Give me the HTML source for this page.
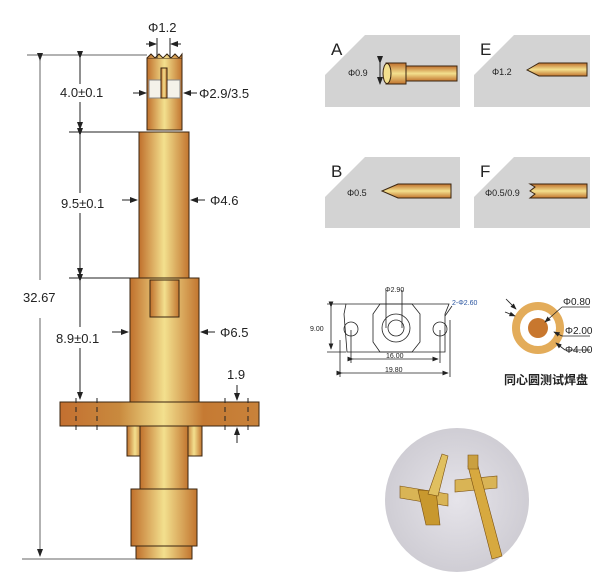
<!DOCTYPE html>
<html><head><meta charset="utf-8"><style>
html,body{margin:0;padding:0;background:#fff}
svg{display:block}
text{font-family:"Liberation Sans",sans-serif;fill:#222}
</style></head><body>
<svg width="610" height="588" viewBox="0 0 610 588" xmlns="http://www.w3.org/2000/svg">
<defs>
<linearGradient id="g" x1="0" x2="1" y1="0" y2="0">
<stop offset="0" stop-color="#c0702c"/><stop offset="0.5" stop-color="#f3e08e"/><stop offset="1" stop-color="#c2752f"/>
</linearGradient>
<linearGradient id="gv" x1="0" x2="0" y1="0" y2="1">
<stop offset="0" stop-color="#c0702c"/><stop offset="0.5" stop-color="#f3e08e"/><stop offset="1" stop-color="#c2752f"/>
</linearGradient>
<linearGradient id="gf" x1="0" x2="1" y1="0" y2="0">
<stop offset="0" stop-color="#c36f30"/><stop offset="0.3" stop-color="#c98a3e"/><stop offset="0.52" stop-color="#f3e08e"/><stop offset="0.72" stop-color="#c57a33"/><stop offset="1" stop-color="#c8823a"/>
</linearGradient>
<radialGradient id="ph" cx="0.5" cy="0.5" r="0.5">
<stop offset="0" stop-color="#e6e4ea"/><stop offset="1" stop-color="#cfcdd4"/>
</radialGradient>
<marker id="ar" markerWidth="8" markerHeight="8" refX="7" refY="4" orient="auto"><path d="M0,1 L8,4 L0,7 z" fill="#222"/></marker>
</defs>

<!-- pin -->
<g stroke="#3a2510" stroke-width="1">
<rect x="147" y="58" width="35" height="72" fill="url(#g)"/>
<path d="M147,58 l4,-4 l4,4 l4,-4 l4,4 l4,-4 l4,4 l4,-4 l4,4 l3,-4 v4" fill="url(#g)"/>
<rect x="149" y="80" width="31" height="18" fill="#f4f2ea" stroke="#888"/>
<rect x="161" y="68" width="6" height="30" fill="url(#g)"/>
<rect x="139" y="132" width="50" height="146" fill="url(#g)"/>
<rect x="130" y="278" width="69" height="124" fill="url(#g)"/>
<rect x="150" y="280" width="29" height="37" fill="url(#g)"/>
<rect x="60" y="402" width="199" height="24" fill="url(#gf)"/>
<rect x="127" y="426" width="16" height="30" fill="url(#g)"/>
<rect x="186" y="426" width="16" height="30" fill="url(#g)"/>
<rect x="140" y="426" width="48" height="63" fill="url(#g)"/>
<rect x="131" y="489" width="66" height="57" fill="url(#g)"/>
<rect x="136" y="546" width="56" height="13" fill="url(#g)"/>
</g>
<g stroke="#222" stroke-width="1" fill="none">
<line x1="27" y1="55" x2="147" y2="55" stroke="#666"/>
<line x1="69" y1="132" x2="139" y2="132"/>
<line x1="69" y1="278" x2="130" y2="278"/>
<line x1="22" y1="559" x2="136" y2="559" stroke="#666"/>
<line x1="40" y1="60" x2="40" y2="280" stroke="#666" marker-start="url(#ar)"/>
<line x1="40" y1="318" x2="40" y2="556" stroke="#666" marker-end="url(#ar)"/>
<line x1="80" y1="58" x2="80" y2="84" marker-start="url(#ar)"/>
<line x1="80" y1="102" x2="80" y2="129" marker-end="url(#ar)"/>
<line x1="80" y1="135" x2="80" y2="193" marker-start="url(#ar)"/>
<line x1="80" y1="213" x2="80" y2="275" marker-end="url(#ar)"/>
<line x1="80" y1="281" x2="80" y2="327" marker-start="url(#ar)"/>
<line x1="80" y1="348" x2="80" y2="399" marker-end="url(#ar)"/>
<line x1="146" y1="44" x2="156" y2="44" marker-end="url(#ar)"/>
<line x1="181" y1="44" x2="171" y2="44" marker-end="url(#ar)"/>
<line x1="157" y1="38" x2="157" y2="58"/><line x1="170" y1="38" x2="170" y2="58"/>
<line x1="133" y1="93" x2="146" y2="93" marker-end="url(#ar)"/>
<line x1="197" y1="93" x2="184" y2="93" marker-end="url(#ar)"/>
<line x1="122" y1="200" x2="137" y2="200" marker-end="url(#ar)"/>
<line x1="205" y1="200" x2="191" y2="200" marker-end="url(#ar)"/>
<line x1="112" y1="332" x2="128" y2="332" marker-end="url(#ar)"/>
<line x1="215" y1="332" x2="201" y2="332" marker-end="url(#ar)"/>
<line x1="237" y1="385" x2="237" y2="400" marker-end="url(#ar)"/>
<line x1="237" y1="443" x2="237" y2="428" marker-end="url(#ar)"/>
<line x1="76" y1="398" x2="76" y2="430" stroke-dasharray="5,4"/>
<line x1="97" y1="398" x2="97" y2="430" stroke-dasharray="5,4"/>
<line x1="225" y1="398" x2="225" y2="430" stroke-dasharray="5,4"/>
<line x1="248" y1="398" x2="248" y2="430" stroke-dasharray="5,4"/>
</g>
<g font-size="13">
<text x="148" y="32">Φ1.2</text>
<text x="60" y="97">4.0±0.1</text>
<text x="199" y="98">Φ2.9/3.5</text>
<text x="61" y="208">9.5±0.1</text>
<text x="210" y="205">Φ4.6</text>
<text x="23" y="302">32.67</text>
<text x="56" y="343">8.9±0.1</text>
<text x="220" y="337">Φ6.5</text>
<text x="227" y="379">1.9</text>
</g>

<!-- thumbnails -->
<g>
<rect x="325" y="35" width="135" height="72" fill="#d3d3d3"/>
<path d="M325,35 h40 l-40,40z" fill="#fff"/>
<text x="331" y="55" font-size="17">A</text>
<rect x="386" y="63" width="20" height="21" fill="url(#gv)" stroke="#3a2510"/>
<ellipse cx="387" cy="73.5" rx="4" ry="10" fill="#f3e08e" stroke="#3a2510"/>
<rect x="406" y="66" width="51" height="15" fill="url(#gv)" stroke="#3a2510"/>
<line x1="380" y1="63" x2="380" y2="84" stroke="#222" marker-start="url(#ar)" marker-end="url(#ar)"/>
<text x="348" y="76" font-size="9">Φ0.9</text>
<rect x="474" y="35" width="116" height="72" fill="#d3d3d3"/>
<path d="M474,35 h40 l-40,40z" fill="#fff"/>
<text x="480" y="55" font-size="17">E</text>
<path d="M527,70 l12,-7 h48 v13 h-48z" fill="url(#gv)" stroke="#3a2510"/>
<text x="492" y="75" font-size="9">Φ1.2</text>
<rect x="325" y="157" width="135" height="71" fill="#d3d3d3"/>
<path d="M325,157 h40 l-40,40z" fill="#fff"/>
<text x="331" y="177" font-size="17">B</text>
<path d="M382,191 l16,-7 h53 v14 h-53z" fill="url(#gv)" stroke="#3a2510"/>
<text x="347" y="196" font-size="9">Φ0.5</text>
<rect x="474" y="157" width="116" height="71" fill="#d3d3d3"/>
<path d="M474,157 h40 l-40,40z" fill="#fff"/>
<text x="480" y="177" font-size="17">F</text>
<path d="M530,184 h57 v14 h-57 l5,-4 l-5,-3 l5,-4z" fill="url(#gv)" stroke="#3a2510"/>
<text x="485" y="196" font-size="9">Φ0.5/0.9</text>
</g>

<!-- flange drawing -->
<g stroke="#222" fill="none" stroke-width="0.8">
<path d="M346,304 h103 l-4,10 v38 h-98 l-3,-38z"/>
<path d="M380,304 h32 l8,10 v28 l-8,10 h-32 l-7,-10 v-28z"/>
<circle cx="396" cy="328" r="14"/><circle cx="396" cy="328" r="8"/>
<circle cx="351" cy="329" r="7"/><circle cx="440" cy="329" r="7"/>
<line x1="386" y1="290" x2="386" y2="328"/><line x1="402" y1="290" x2="402" y2="328"/>
<line x1="327" y1="304" x2="346" y2="304"/><line x1="327" y1="352" x2="346" y2="352"/>
<line x1="331" y1="307" x2="331" y2="349" marker-start="url(#ar)" marker-end="url(#ar)"/>
<line x1="351" y1="330" x2="351" y2="363"/><line x1="440" y1="330" x2="440" y2="363"/>
<line x1="353" y1="359" x2="438" y2="359" marker-start="url(#ar)" marker-end="url(#ar)"/>
<line x1="340" y1="340" x2="340" y2="377"/><line x1="450" y1="320" x2="450" y2="377"/>
<line x1="342" y1="373" x2="448" y2="373" marker-start="url(#ar)" marker-end="url(#ar)"/>
<line x1="445" y1="316" x2="452" y2="306"/>
</g>
<g font-size="7">
<text x="385" y="292">Φ2.90</text>
<text x="452" y="305" style="fill:#2a55a0">2-Φ2.60</text>
<text x="310" y="331">9.00</text>
<text x="386" y="358">16.00</text>
<text x="385" y="372">19.80</text>
</g>

<!-- ring -->
<circle cx="538" cy="328" r="22" fill="none" stroke="#e3ac5a" stroke-width="8"/>
<circle cx="538" cy="328" r="10" fill="#c8772e"/>
<g stroke="#222" stroke-width="0.8" fill="none">
<line x1="506" y1="299" x2="516" y2="309" marker-end="url(#ar)"/>
<line x1="505" y1="312" x2="515" y2="316" marker-end="url(#ar)"/>
<line x1="590" y1="307" x2="562" y2="307"/><line x1="562" y1="307" x2="545" y2="322" marker-end="url(#ar)"/>
<line x1="590" y1="336" x2="562" y2="336"/><line x1="562" y1="336" x2="554" y2="332" marker-end="url(#ar)"/>
<line x1="590" y1="350" x2="565" y2="350"/><line x1="565" y1="350" x2="556" y2="343" marker-end="url(#ar)"/>
</g>
<g font-size="10">
<text x="563" y="305">Φ0.80</text>
<text x="565" y="334">Φ2.00</text>
<text x="565" y="353">Φ4.00</text>
</g>
<text x="504" y="384" font-size="12" font-weight="bold" style="font-family:'Liberation Sans','Noto Sans CJK SC',sans-serif">同心圆测试焊盘</text>

<!-- photo -->
<circle cx="457" cy="500" r="72" fill="url(#ph)"/>
<g stroke="#7a5010" stroke-width="0.6">
<path d="M400,486 l48,8 v12 l-48,-8z" fill="#d9b455"/>
<path d="M418,490 l8,35 h14 l-4,-34z" fill="#c8982e"/>
<path d="M428,494 l14,-40 l6,2 l-10,40z" fill="#e0c060"/>
<path d="M455,480 l42,-4 v12 l-42,4z" fill="#d9b455"/>
<path d="M468,466 l10,0 l24,90 l-10,3z" fill="#d7a93f"/>
<path d="M468,455 h10 v14 h-10z" fill="#caa040"/>
</g>
</svg>
</body></html>
